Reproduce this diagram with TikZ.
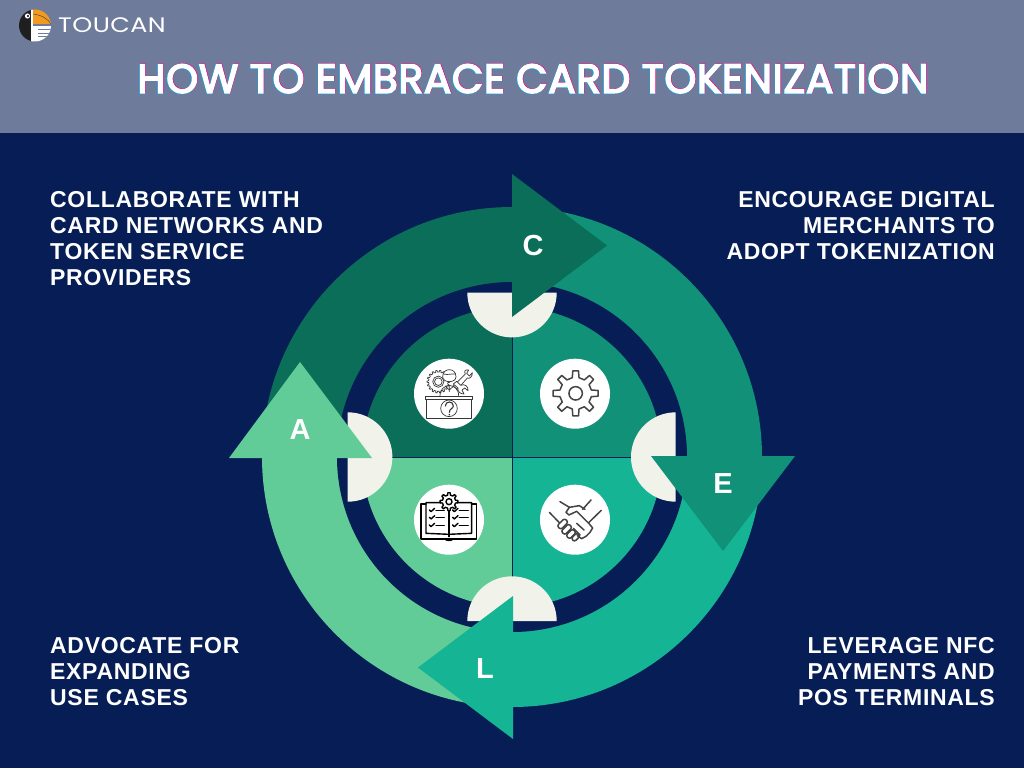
\documentclass[tikz,border=0pt]{standalone}
\usepackage{fontspec}
\setmainfont{Liberation Sans}
\newfontfamily\titlefont[LetterSpace=1.8,FakeBold=4]{Poppins}
\newfontfamily\brandfont[LetterSpace=2,FakeStretch=1.21]{Poppins}
\newfontfamily\capsfont[LetterSpace=3]{Liberation Sans}
\definecolor{banner}{HTML}{6E7B9B}
\definecolor{navy}{HTML}{061E55}
\definecolor{forest}{HTML}{0B6E59}
\definecolor{teal}{HTML}{109178}
\definecolor{aqua}{HTML}{14B494}
\definecolor{mint}{HTML}{61CC98}
\definecolor{shell}{HTML}{F1F2EA}
\definecolor{beak}{HTML}{F39A1E}
\definecolor{ink}{HTML}{444444}
\tikzset{
  caption/.style={text=white,inner sep=0pt,font=\capsfont\bfseries\fontsize{23}{26}\selectfont},
  letter/.style={text=white,inner sep=0pt,font=\bfseries\fontsize{29}{29}\selectfont},
  headline/.style={inner sep=0pt,font=\titlefont\fontsize{40.5}{44}\selectfont},
  badge/.style={fill=white,draw=none},
  iconline/.style={draw=ink,line width=1.5pt,line join=round,line cap=round},
  fineline/.style={draw=ink!80!black,line width=0.7pt,line join=round,line cap=round},
  blackline/.style={draw=black,line width=1.4pt,line join=round,line cap=round},
  iconspace/.style={shift={(400,350)},x=0.3333pt,y=-0.3333pt},
}
% Toothed wheel: options, centre, outer radius, root radius, tooth count
\newcommand\toothedwheel[5]{%
  \pgfmathsetmacro\wstep{360/#5}%
  \pgfmathsetmacro\wtop{\wstep*0.16}%
  \pgfmathsetmacro\wroot{\wstep*0.27}%
  \draw[#1,shift={(#2)}] (-\wroot:#4)
    \foreach \k in {1,...,#5}{
      -- ({(\k-1)*\wstep-\wroot}:#4) -- ({(\k-1)*\wstep-\wtop}:#3)
      -- ({(\k-1)*\wstep+\wtop}:#3) -- ({(\k-1)*\wstep+\wroot}:#4)
    } -- cycle;%
}
\begin{document}
\begin{tikzpicture}[x=1pt,y=-1pt]
\useasboundingbox (0,0) rectangle (1024,768);
\fill[navy] (0,0) rectangle (1024,768);
\fill[banner] (0,0) rectangle (1024,133);

% Brand mark
\begin{scope}
  \clip (35,25.5) circle[radius=16pt];
  \fill[black!88] (18,9) rectangle (31,42);
  \fill[white] (31,9) rectangle (33,42);
  \fill[beak] (33,9) rectangle (52,24);
  \draw[black!70,line width=0.5pt] (33,14) .. controls (42,15) and (48,19) .. (51,24);
  \fill[white] (32,26) rectangle (52,42);
  \draw[banner,line width=0.7pt] (38,29.5) -- (52,29.5) (38,33) -- (52,33) (38,36.5) -- (52,36.5);
\end{scope}
\fill[white] (27.5,16) circle[radius=2.6pt];
\fill[black] (28,16) circle[radius=1.1pt];
\node[inner sep=0pt,anchor=base west,text=white,font=\brandfont\fontsize{21}{21}\selectfont] (brand) at (58,32.5) {TOUCAN};

% Headline with offset colour fringes
\node[headline,text=magenta,anchor=base] (titleM) at (533.5,92.4) {HOW TO EMBRACE CARD TOKENIZATION};
\node[headline,text=cyan,anchor=base] (titleC) at (532.5,93.2) {HOW TO EMBRACE CARD TOKENIZATION};
\node[headline,text=white,anchor=base] (title) at (533,92.8) {HOW TO EMBRACE CARD TOKENIZATION};

% Outer ring quadrants
\fill[forest] (512,457) -- (262,457) arc[start angle=180,end angle=90,radius=250pt] -- cycle;
\fill[teal] (512,457) -- (512,207) arc[start angle=90,end angle=0,radius=250pt] -- cycle;
\fill[aqua] (512,457) -- (762,457) arc[start angle=0,end angle=-90,radius=250pt] -- cycle;
\fill[mint] (512,457) -- (512,707) arc[start angle=-90,end angle=-180,radius=250pt] -- cycle;
\fill[navy] (512,457) circle[radius=175pt];

% Inner disc quadrants
\fill[forest] (512,457) -- (362,457) arc[start angle=180,end angle=90,radius=150pt] -- cycle;
\fill[teal] (512,457) -- (512,307) arc[start angle=90,end angle=0,radius=150pt] -- cycle;
\fill[aqua] (512,457) -- (662,457) arc[start angle=0,end angle=-90,radius=150pt] -- cycle;
\fill[mint] (512,457) -- (512,607) arc[start angle=-90,end angle=-180,radius=150pt] -- cycle;
\draw[navy,line width=1pt] (512,300) -- (512,610) (355,457) -- (670,457);

% Half discs on the ring
\fill[shell] (467.3,292.7) arc[start angle=180,end angle=360,radius=44.7pt] -- cycle;
\fill[shell] (675.7,412.3) arc[start angle=90,end angle=270,radius=44.7pt] -- cycle;
\fill[shell] (467.3,621) arc[start angle=180,end angle=0,radius=44.7pt] -- cycle;
\fill[shell] (347.7,412.3) arc[start angle=90,end angle=-90,radius=44.7pt] -- cycle;

% Arrowheads
\fill[forest] (512,174) -- (607,245.5) -- (512,317) -- cycle;
\fill[teal] (651,456) -- (795,456) -- (723,551) -- cycle;
\fill[aqua] (513,596) -- (513,739) -- (418,667.5) -- cycle;
\fill[mint] (229,458) -- (372,458) -- (300,362) -- cycle;

\node[letter] (lc) at (533,246) {C};
\node[letter] (le) at (723,484) {E};
\node[letter] (ll) at (485,669) {L};
\node[letter] (la) at (300,430) {A};

% Captions
\node[caption,anchor=north west,align=left] (capTL) at (50,191.5) {COLLABORATE WITH\\CARD NETWORKS AND\\TOKEN SERVICE\\PROVIDERS};
\node[caption,anchor=north east,align=right] (capTR) at (995,191.5) {ENCOURAGE DIGITAL\\MERCHANTS TO\\ADOPT TOKENIZATION};
\node[caption,anchor=north west,align=left] (capBL) at (50,637.5) {ADVOCATE FOR\\EXPANDING\\USE CASES};
\node[caption,anchor=north east,align=right] (capBR) at (995,637.5) {LEVERAGE NFC\\PAYMENTS AND\\POS TERMINALS};

% Icon badges
\fill[badge] (449,393.7) circle[radius=35pt];
\fill[badge] (575,393.7) circle[radius=35pt];
\fill[badge] (449,519.7) circle[radius=35pt];
\fill[badge] (575,519.7) circle[radius=35pt];

\begin{scope}[iconspace]
  % Gear
  \toothedwheel{iconline}{527,130}{68}{48}{8}
  \draw[iconline] (527,130) circle[radius=6.7pt];

  % Support desk: gear, person, wrench and question mark
  \toothedwheel{fineline}{115,95}{34}{29}{18}
  \draw[fineline] (115,95) circle[radius=5.6pt];
  \draw[fineline] (115,95) circle[radius=3.8pt];
  \draw[fineline,fill=white] (128,80) .. controls (128,52) and (168,52) .. (168,80)
     .. controls (168,100) and (128,100) .. (128,80);
  \draw[fineline] (130,72) .. controls (145,76) and (155,70) .. (166,72);
  \draw[fineline] (120,138) .. controls (120,115) and (135,108) .. (148,106)
     .. controls (161,108) and (176,115) .. (176,138);
  \draw[fineline] (148,106) -- (148,125) (135,108) -- (148,120) -- (161,108);
  \draw[fineline,fill=white] (160,108) -- (196,72) .. controls (190,62) and (198,58) .. (206,60)
     -- (200,70) -- (208,78) -- (217,68) .. controls (218,80) and (208,88) .. (202,84)
     -- (172,118) -- cycle;
  \draw[fineline,fill=white] (170,94) -- (182,106) .. controls (194,100) and (206,110) .. (204,122)
     -- (194,114) -- (186,120) -- (192,132) .. controls (180,132) and (172,124) .. (174,114) -- (160,102) -- cycle;
  \draw[fineline,fill=white] (76,138) rectangle (218,147);
  \draw[fineline,fill=white] (80,147) rectangle (214,204);
  \draw[fineline] (147,175) circle[radius=8.3pt];
  \draw[line width=1.1pt,draw=ink!80!black,line cap=round] (136,168) .. controls (136,152) and (160,152) .. (160,168)
     .. controls (160,176) and (148,176) .. (148,187);
  \fill[ink!80!black] (148,194) circle[radius=0.9pt];

  % Book of checklists
  \draw[blackline] (78,462) -- (63,462) -- (63,567) -- (230,567) -- (230,462) -- (215,462);
  \draw[blackline] (122,458) -- (78,458) -- (78,550) -- (147,553) -- (215,550) -- (215,458) -- (172,458);
  \draw[blackline] (147,482) -- (147,560);
  \draw[blackline] (135,567) .. controls (138,573) and (156,573) .. (159,567);
  \foreach \ya in {480,502,525}{
    \draw[blackline] (88,\ya) -- (93,{\ya+5}) -- (104,{\ya-5});
    \draw[blackline] (108,\ya+1) -- (133,\ya+1);
    \draw[blackline] (158,\ya) -- (163,{\ya+5}) -- (174,{\ya-5});
    \draw[blackline] (178,\ya+1) -- (205,\ya+1);
  }
  \toothedwheel{blackline,fill=white}{147,455}{27}{20}{8}
  \draw[blackline] (147,455) circle[radius=3pt];

  % Handshake
  \draw[iconline] (448,487) -- (478,518);
  \draw[iconline] (604,481) -- (566,518);
  \draw[iconline] (480,455) -- (508,472) -- (538,467) -- (555,478);
  \draw[iconline] (573,450) -- (548,478);
  \draw[iconline] (508,472) -- (498,487) -- (507,495) -- (530,484) -- (568,522)
     -- (578,534) -- (570,547) -- (558,559) -- (545,566) -- (532,557);
  \draw[iconline] (530,520) -- (552,540) (520,535) -- (540,555);
  \draw[iconline,rotate around={45:(488,522)},rounded corners=2.2pt] (472,514) rectangle (504,530);
  \draw[iconline,rotate around={45:(500,538)},rounded corners=2.2pt] (484,530) rectangle (516,546);
  \draw[iconline,rotate around={45:(513,552)},rounded corners=2.2pt] (499,544) rectangle (527,560);
  \draw[iconline,rotate around={45:(527,562)},rounded corners=2.2pt] (515,555) rectangle (539,569);
\end{scope}
\end{tikzpicture}
\end{document}
